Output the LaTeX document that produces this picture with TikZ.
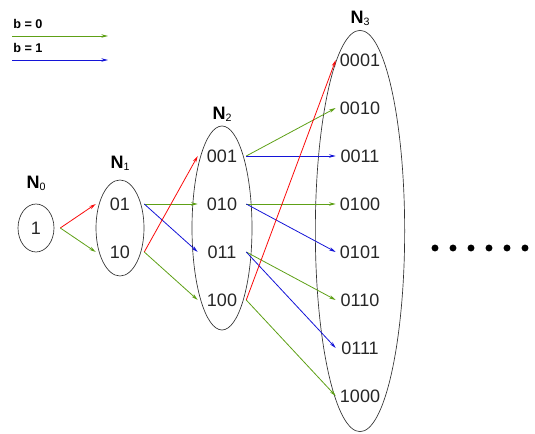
\documentclass[tikz,border=0pt]{standalone}
\usepackage{fontspec}
\setmainfont{Liberation Sans}
\usetikzlibrary{shapes.geometric, arrows.meta}
\definecolor{bitGreen}{RGB}{94,160,22}
\definecolor{bitBlue}{RGB}{20,20,215}
\definecolor{bitRed}{RGB}{250,10,10}
\tikzset{
    grp/.style={draw, ellipse, inner sep=0pt, line width=0.5pt, black!80},
    bits/.style={inner sep=0pt, minimum width=36pt, font=\fontsize{13.5}{15}\selectfont, text=black!85},
    lvl/.style={inner sep=0pt, font=\fontsize{13.5}{15}\selectfont\bfseries},
    key/.style={anchor=west, inner sep=0pt, font=\fontsize{9.5}{11}\selectfont\bfseries},
    link/.style={line width=0.6pt, -{Stealth[length=5pt, width=2.6pt]}}
}
\newcommand{\lvlname}[1]{N{\fontsize{8}{9}\selectfont\mdseries\raisebox{-0.35ex}{#1}}}

\begin{document}
\begin{tikzpicture}[x=0.75pt, y=-0.75pt]
    \useasboundingbox (0,0) rectangle (535,434);
    % legend
    \node[key] (k0) at (13,24) {b = 0};
    \node[key] (k1) at (13,48) {b = 1};
    \coordinate (k0a) at (12,36); \coordinate (k0b) at (108,36);
    \coordinate (k1a) at (12,60); \coordinate (k1b) at (108,60);
    \draw[link, bitGreen] (k0a) -- (k0b);
    \draw[link, bitBlue] (k1a) -- (k1b);

    \node[grp, minimum width=27pt, minimum height=36pt] (g0) at (36,228) {};
    \node[grp, minimum width=36pt, minimum height=72pt] (g1) at (120,228) {};
    \node[grp, minimum width=45pt, minimum height=153pt] (g2) at (222,228) {};
    \node[grp, minimum width=67pt, minimum height=301pt] (g3) at (360,231) {};

    \node[lvl] (l0) at (36,183) {\lvlname{0}};
    \node[lvl] (l1) at (120,163) {\lvlname{1}};
    \node[lvl] (l2) at (222,114) {\lvlname{2}};
    \node[lvl] (l3) at (360,18) {\lvlname{3}};

    \node[bits] (b1) at (36,228) {1};
    \node[bits] (b01) at (120,204) {01};
    \node[bits] (b10) at (120,252) {10};
    \foreach \s [count=\i] in {001,010,011,100}
        \node[bits] (b\s) at (222,108+48*\i) {\s};
    \foreach \s [count=\i] in {0001,0010,0011,0100,0101,0110,0111,1000}
        \node[bits] (b\s) at (360,12+48*\i) {\s};

    \foreach \a/\b/\c in {b1/b01/bitRed, b1/b10/bitGreen,
            b01/b010/bitGreen, b01/b011/bitBlue, b10/b001/bitRed, b10/b100/bitGreen,
            b001/b0010/bitGreen, b001/b0011/bitBlue, b010/b0100/bitGreen, b010/b0101/bitBlue,
            b011/b0110/bitGreen, b011/b0111/bitBlue, b100/b0001/bitRed, b100/b1000/bitGreen}
        \draw[link, \c] (\a.east) -- (\b.west);

    \foreach \i in {0,...,5}
        \fill (435+18*\i,248) circle (2.6pt);
\end{tikzpicture}
\end{document}
